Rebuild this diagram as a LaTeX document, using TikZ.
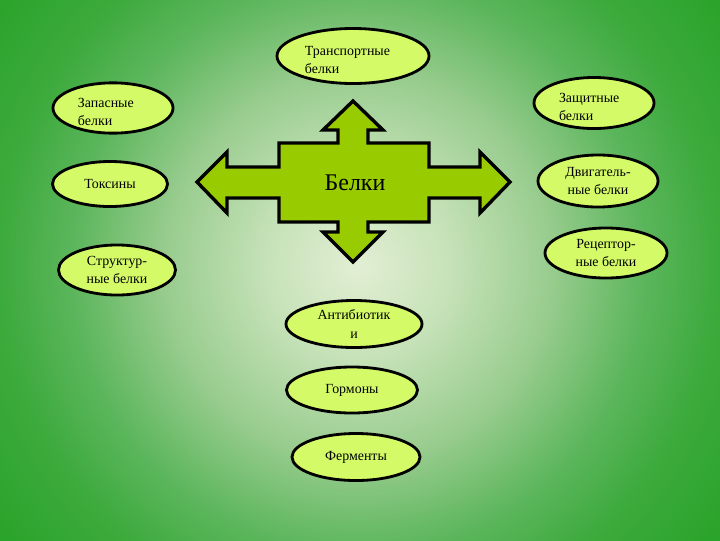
\documentclass[tikz,border=0pt]{standalone}
\usepackage{fontspec}
\setmainfont{Liberation Serif}
\usetikzlibrary{shapes.geometric}

\definecolor{bgcentre}{RGB}{226,238,212}
\definecolor{bgnear}{RGB}{198,226,184}
\definecolor{bgmid}{RGB}{152,204,142}
\definecolor{bgside}{RGB}{92,182,92}
\definecolor{bgfar}{RGB}{60,170,60}
\definecolor{bgcorner}{RGB}{40,163,40}
\definecolor{lightgrass}{RGB}{212,250,104}
\definecolor{arrowgreen}{RGB}{153,204,0}

% the shading's inner 50bp square is stretched over the path
\pgfdeclareradialshading{meadow}{\pgfpointorigin}{%
  color(0bp)=(bgcentre); color(5bp)=(bgnear); color(10.5bp)=(bgmid);
  color(15.5bp)=(bgside); color(19.5bp)=(bgfar); color(25bp)=(bgcorner);
  color(50bp)=(bgcorner)}

\begin{document}
\begin{tikzpicture}[
		x=0.025cm, y=-0.025cm,
		kind/.style={
				ellipse,
				draw,
				line width=2pt,
				fill=lightgrass,
				inner sep=0pt,
				align=center,
				font=\fontsize{9.9}{13.2}\selectfont,
				minimum width=3cm,
				minimum height=1.25cm
			},
		lowered/.style={execute at begin node={\rule{0pt}{12pt}}},
		cross/.style={draw, line width=2.4pt, fill=arrowgreen, line join=miter}
	]
	\useasboundingbox (0,0) rectangle (720,540);
	\begin{scope}
		\clip (0,0) rectangle (720,540);
		\shade[shading=meadow] (358,266) circle (11.5cm);
	\end{scope}

	% four-way arrow
	\draw[cross] (353,101) -- (383,130) -- (368,130) -- (368,143) -- (429,143)
		-- (429,167) -- (480,167) -- (480,152) -- (510,182) -- (480,213)
		-- (480,198) -- (429,198) -- (429,222) -- (368,222) -- (368,232)
		-- (383,232) -- (353,262) -- (323,232) -- (338,232) -- (338,222)
		-- (279,222) -- (279,198) -- (227,198) -- (227,213) -- (197,182)
		-- (227,152) -- (227,167) -- (279,167) -- (279,143) -- (338,143)
		-- (338,130) -- (323,130) -- cycle;
	\node (proteins) at (355,183) {\fontsize{17}{20}\selectfont Белки};

	% top
	\node[kind, lowered, align=left, text width=2.4cm, minimum width=3.8cm, minimum height=1.375cm] (transport) at (353,56) {Транспортные\\белки};

	% left column
	\node[kind, lowered, align=left, text width=1.75cm] (storage) at (113,108) {Запасные\\белки};
	\node[kind, minimum width=2.875cm, minimum height=1.125cm] (toxin) at (110,184) {Токсины};
	\node[kind, lowered, minimum width=2.925cm] (structural) at (117,270) {Структур-\\ные белки};

	% right column
	\node[kind, lowered, align=left, text width=1.75cm, minimum height=1.275cm] (defense) at (594,103) {Защитные\\белки};
	\node[kind, lowered, minimum height=1.3cm] (motor) at (598,181) {Двигатель-\\ные белки};
	\node[kind, lowered, minimum width=3.05cm] (receptor) at (606,253) {Рецептор-\\ные белки};

	% bottom column
	\node[kind, lowered, minimum width=3.4cm, minimum height=1.175cm] (antibiotic) at (354,324) {Антибиотик\\и};
	\node[kind, minimum width=3.275cm, minimum height=1.15cm] (hormone) at (352,390) {Гормоны};
	\node[kind, minimum width=3.2cm, minimum height=1.175cm] (enzyme) at (356,457) {Ферменты};
\end{tikzpicture}
\end{document}
